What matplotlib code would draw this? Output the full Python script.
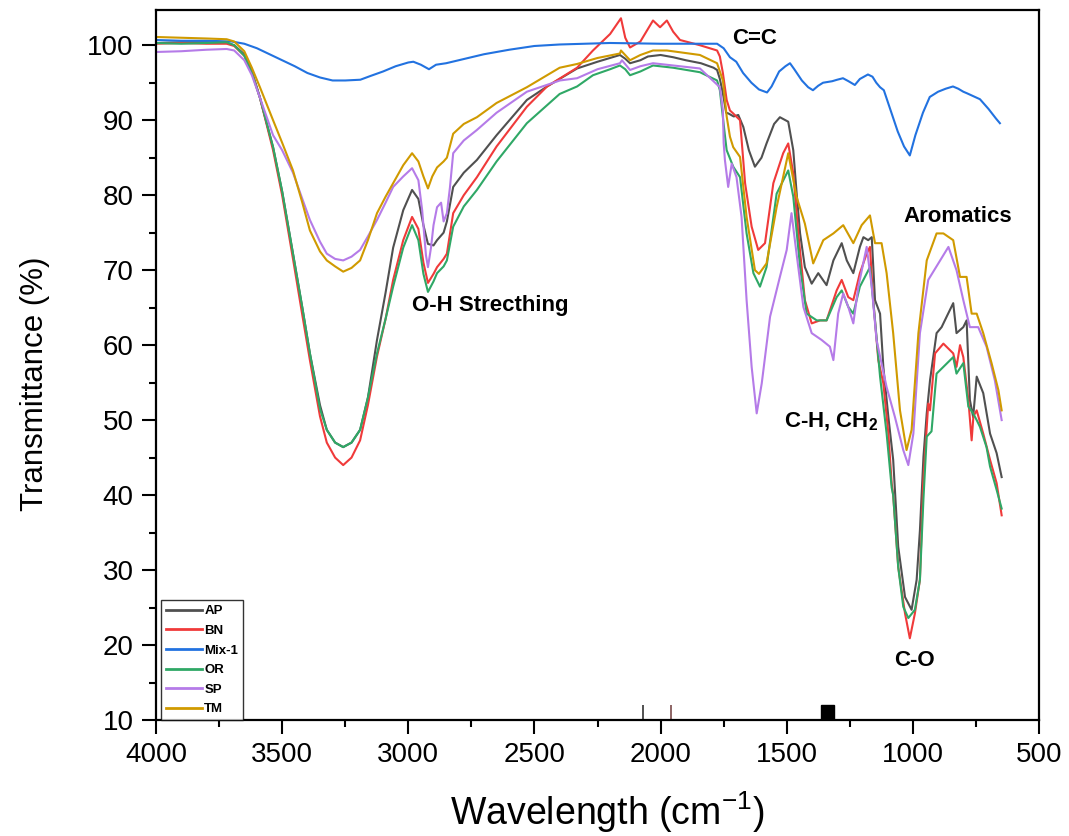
import matplotlib
matplotlib.use("Agg")
import matplotlib.pyplot as plt
from matplotlib.ticker import MultipleLocator
from matplotlib.patches import Rectangle

plt.rcParams['font.family'] = ['Liberation Sans', 'DejaVu Sans']
plt.rcParams['mathtext.default'] = 'regular'

# ---------------- data ----------------
ap_wn = [4000, 3900, 3800, 3720, 3690, 3650, 3620, 3588, 3536, 3500, 3457, 3420, 3390, 3350, 3323, 3290, 3258, 3225,
         3191, 3160, 3124, 3090, 3060, 3020, 2985, 2960, 2940, 2922, 2900, 2886, 2860, 2847, 2822, 2780, 2728, 2650,
         2530, 2450, 2331, 2250, 2161, 2140, 2121, 2080, 2050, 2000, 1950, 1900, 1840, 1790, 1776, 1765, 1753, 1740,
         1731, 1710, 1692, 1672, 1650, 1626, 1600, 1580, 1550, 1527, 1494, 1474, 1460, 1447, 1428, 1401, 1375, 1342,
         1315, 1282, 1262, 1236, 1210, 1196, 1177, 1163, 1150, 1130, 1117, 1097, 1078, 1058, 1031, 1005, 985, 972,
         958, 945, 932, 906, 886, 866, 840, 827, 800, 787, 774, 761, 747, 721, 694, 668, 648]
ap_t = [100.3, 100.4, 100.4, 100.3, 100.0, 98.8, 96.5, 93.0, 86.4, 80.5, 72.2, 65.0, 58.9, 52.0, 48.7, 47.0, 46.4, 47.0,
        48.7, 53.0, 60.7, 67.0, 73.0, 78.0, 80.7, 79.5, 76.0, 73.5, 73.3, 74.0, 75.0, 76.5, 81.1, 83.0, 84.7, 88.0,
        92.7, 94.5, 96.9, 97.8, 98.7, 98.2, 97.6, 98.0, 98.5, 98.7, 98.4, 98.0, 97.6, 97.0, 96.7, 95.5, 93.6, 91.0,
        90.9, 90.5, 90.7, 89.1, 86.0, 83.8, 85.0, 86.9, 89.5, 90.4, 89.8, 86.0, 80.0, 74.9, 70.4, 68.2, 69.6, 68.0,
        71.3, 73.6, 71.3, 69.6, 73.1, 74.4, 74.0, 74.4, 66.0, 64.2, 57.1, 50.4, 44.7, 33.1, 26.4, 24.7, 28.7, 35.3,
        45.1, 50.9, 55.3, 61.6, 62.4, 63.8, 65.6, 61.6, 62.4, 63.3, 52.7, 50.4, 55.8, 53.6, 48.2, 45.6, 42.4]

bn_wn = [4000, 3900, 3800, 3720, 3690, 3650, 3620, 3588, 3536, 3500, 3457, 3420, 3390, 3350, 3323, 3290, 3258, 3225,
         3191, 3160, 3124, 3090, 3060, 3020, 2985, 2960, 2940, 2922, 2900, 2886, 2860, 2847, 2822, 2780, 2728, 2650,
         2530, 2450, 2331, 2268, 2200, 2157, 2140, 2121, 2080, 2030, 2002, 1975, 1950, 1923, 1844, 1776, 1765, 1753,
         1738, 1725, 1712, 1685, 1665, 1639, 1613, 1586, 1553, 1514, 1494, 1474, 1454, 1428, 1401, 1368, 1342, 1302,
         1282, 1256, 1236, 1210, 1183, 1170, 1157, 1137, 1117, 1097, 1084, 1078, 1058, 1031, 1012, 992, 972, 959, 939,
         932, 912, 879, 840, 827, 813, 800, 780, 767, 760, 747, 721, 694, 668, 648]
bn_t = [100.2, 100.3, 100.2, 100.2, 99.9, 98.6, 96.4, 93.0, 86.0, 80.0, 71.5, 64.0, 58.0, 50.5, 47.0, 45.0, 44.0, 45.0,
        47.3, 52.0, 58.5, 63.5, 68.7, 74.0, 77.1, 75.5, 71.0, 68.3, 69.5, 70.4, 71.5, 72.2, 77.6, 80.0, 82.4, 86.5,
        91.8, 94.5, 97.0, 99.3, 101.5, 103.6, 101.0, 99.7, 100.5, 103.3, 102.4, 103.3, 101.8, 100.7, 100.0, 99.3, 98.5, 96.3,
        92.7, 91.3, 90.9, 90.0, 81.6, 75.8, 72.7, 73.6, 81.6, 85.6, 86.9, 82.9, 74.9, 66.0, 62.9, 63.3, 63.3, 67.3,
        68.7, 66.4, 66.0, 69.6, 72.2, 73.1, 66.0, 58.0, 54.9, 48.2, 41.6, 40.0, 30.4, 24.2, 20.9, 24.2, 28.7, 41.6, 52.2,
        51.3, 58.9, 60.2, 58.9, 57.1, 60.0, 58.4, 52.7, 47.3, 50.5, 51.3, 48.2, 44.7, 41.6, 37.3]

mix_wn = [4000, 3900, 3800, 3700, 3650, 3600, 3550, 3500, 3450, 3400, 3350, 3300, 3250, 3190, 3150, 3100, 3050, 3000,
          2980, 2950, 2918, 2890, 2850, 2800, 2700, 2600, 2500, 2400, 2200, 2000, 1850, 1776, 1750, 1725, 1700, 1673,
          1640, 1610, 1578, 1560, 1530, 1505, 1487, 1470, 1440, 1415, 1396, 1375, 1356, 1320, 1300, 1277, 1255, 1230,
          1210, 1178, 1160, 1145, 1130, 1115, 1090, 1060, 1035, 1012, 990, 960, 933, 900, 870, 841, 820, 800, 786,
          760, 734, 700, 670, 655]
mix_t = [100.7, 100.6, 100.6, 100.5, 100.2, 99.6, 98.8, 98.0, 97.2, 96.3, 95.7, 95.3, 95.3, 95.4, 95.9, 96.5, 97.2, 97.7,
         97.8, 97.4, 96.8, 97.4, 97.6, 98.0, 98.8, 99.4, 99.9, 100.1, 100.3, 100.2, 100.2, 100.2, 99.6, 98.4, 97.8, 96.3,
         95.0, 94.1, 93.7, 94.5, 96.5, 97.2, 97.6, 96.8, 95.3, 94.4, 94.0, 94.6, 95.0, 95.2, 95.4, 95.6, 95.2, 94.7,
         95.5, 96.1, 95.8, 95.0, 94.4, 94.0, 91.5, 88.5, 86.5, 85.3, 88.0, 91.0, 93.1, 93.8, 94.2, 94.5, 94.2, 93.8, 93.6,
         93.2, 92.8, 91.5, 90.2, 89.6]

or_wn = [4000, 3900, 3800, 3720, 3690, 3650, 3620, 3588, 3536, 3500, 3457, 3420, 3390, 3350, 3323, 3290, 3258, 3225,
         3191, 3160, 3124, 3090, 3060, 3020, 2985, 2960, 2940, 2922, 2900, 2886, 2860, 2847, 2822, 2780, 2728, 2650,
         2530, 2400, 2331, 2268, 2200, 2161, 2140, 2121, 2080, 2030, 1950, 1844, 1776, 1765, 1753, 1745, 1738, 1712,
         1685, 1659, 1632, 1606, 1580, 1540, 1494, 1474, 1447, 1421, 1381, 1342, 1302, 1282, 1256, 1236, 1210, 1170,
         1150, 1130, 1104, 1084, 1078, 1058, 1038, 1018, 992, 972, 958, 945, 926, 912, 906, 879, 840, 827, 800, 780,
         761, 747, 734, 708, 694, 668, 648]
or_t = [100.3, 100.2, 100.3, 100.4, 100.0, 98.6, 96.3, 93.0, 86.4, 80.5, 72.2, 65.0, 58.9, 51.5, 48.7, 47.0, 46.4, 47.0,
        48.7, 53.0, 58.9, 63.5, 67.8, 73.0, 76.0, 74.0, 69.5, 67.1, 68.5, 69.6, 70.5, 71.3, 75.8, 78.5, 80.7, 84.5,
        89.6, 93.5, 94.5, 96.0, 96.8, 97.3, 96.8, 96.0, 96.5, 97.3, 97.0, 96.4, 95.3, 94.0, 90.4, 88.0, 86.0, 83.8,
        82.4, 74.9, 69.6, 67.8, 70.4, 80.2, 83.3, 79.8, 70.4, 64.2, 63.3, 63.3, 66.4, 67.3, 65.1, 64.2, 67.8, 70.4,
        63.3, 55.8, 48.2, 41.0, 40.0, 30.4, 25.1, 23.6, 24.7, 28.7, 39.5, 47.8, 48.5, 54.0, 56.2, 57.1, 58.4, 56.2, 57.6, 51.8,
        50.9, 50.0, 49.1, 46.4, 43.8, 40.7, 38.2]

sp_wn = [4000, 3900, 3800, 3720, 3690, 3650, 3620, 3588, 3536, 3500, 3457, 3420, 3390, 3350, 3323, 3290, 3258, 3225,
         3191, 3160, 3124, 3090, 3060, 3020, 2985, 2960, 2945, 2930, 2922, 2910, 2900, 2886, 2870, 2860, 2847, 2835,
         2822, 2780, 2728, 2650, 2530, 2399, 2331, 2250, 2161, 2153, 2121, 2080, 2030, 1950, 1844, 1765, 1753, 1750,
         1745, 1732, 1718, 1699, 1679, 1659, 1639, 1619, 1599, 1566, 1527, 1500, 1481, 1461, 1434, 1401, 1362, 1329,
         1315, 1296, 1276, 1256, 1236, 1216, 1183, 1163, 1144, 1104, 1071, 1038, 1018, 998, 972, 939, 899, 859, 827,
         800, 774, 741, 708, 675, 648]
sp_t = [99.1, 99.2, 99.4, 99.5, 99.3, 98.0, 96.0, 93.0, 88.0, 86.0, 83.0, 79.5, 76.7, 73.8, 72.2, 71.5, 71.3, 71.8,
        72.7, 74.5, 76.7, 79.0, 81.1, 82.5, 83.6, 82.0, 78.0, 72.0, 70.4, 73.0, 76.0, 78.4, 79.0, 76.5, 77.6, 81.0,
        85.6, 87.3, 88.7, 91.0, 93.8, 95.3, 95.6, 96.8, 97.6, 98.0, 96.7, 97.2, 97.6, 97.3, 96.9, 94.4, 91.3, 87.0,
        84.7, 81.1, 84.2, 82.4, 77.1, 66.0, 57.1, 50.9, 54.9, 63.8, 69.1, 72.7, 77.6, 72.2, 65.1, 61.6, 60.7, 59.8,
        58.0, 64.2, 66.9, 65.1, 62.9, 67.8, 73.1, 67.8, 60.7, 54.4, 50.4, 46.0, 44.0, 48.2, 61.6, 68.7, 70.9, 73.1, 70.0,
        66.0, 62.4, 62.4, 59.8, 55.3, 50.0]

tm_wn = [4000, 3900, 3800, 3720, 3690, 3650, 3620, 3588, 3536, 3500, 3457, 3420, 3390, 3350, 3323, 3290, 3258, 3225,
         3191, 3160, 3124, 3090, 3060, 3020, 2985, 2960, 2940, 2922, 2905, 2886, 2860, 2847, 2822, 2780, 2728, 2650,
         2530, 2400, 2331, 2250, 2161, 2157, 2121, 2080, 2030, 1975, 1844, 1776, 1753, 1738, 1725, 1712, 1685, 1659,
         1626, 1610, 1580, 1540, 1494, 1461, 1428, 1395, 1355, 1315, 1276, 1236, 1203, 1170, 1150, 1124, 1104, 1078,
         1051, 1025, 1005, 978, 945, 906, 879, 840, 813, 787, 767, 747, 721, 688, 661, 648]
tm_t = [101.1, 101.0, 100.9, 100.8, 100.5, 99.2, 97.0, 94.4, 90.0, 87.0, 83.3, 79.0, 75.3, 72.5, 71.3, 70.5, 69.8, 70.3,
        71.3, 74.0, 77.6, 79.8, 81.6, 84.0, 85.6, 84.5, 82.5, 80.9, 82.5, 83.7, 84.5, 85.0, 88.2, 89.5, 90.4, 92.3,
        94.4, 97.0, 97.5, 98.3, 98.9, 99.3, 98.0, 98.7, 99.3, 99.3, 98.7, 97.6, 95.3, 90.5, 87.8, 86.4, 85.1, 77.1,
        70.0, 69.5, 70.9, 78.4, 85.6, 79.8, 76.2, 70.9, 74.0, 74.9, 76.0, 73.6, 76.0, 77.3, 73.6, 73.6, 69.6, 61.6,
        51.3, 46.0, 48.7, 61.6, 71.3, 74.9, 74.9, 74.0, 69.1, 69.1, 64.2, 64.2, 61.6, 57.6, 54.0, 51.3]

series_names = ['AP', 'BN', 'Mix-1', 'OR', 'SP', 'TM']
series_colors = ['#505050', '#f03a3a', '#2272e0', '#2fa866', '#b57be8', '#d09a00']

annot_texts = ['O-H Strecthing', 'C=C', 'Aromatics', 'C-H, CH$_2$', 'C-O']
annot_wn = [2676, 1626, 821, 1325, 992]
annot_t = [65.3, 100.9, 77.1, 49.8, 18.0]

# stray marks near the x axis in the original
stray_line_wn = [2069, 1960]
stray_line_colors = ['#333333', '#7a4a4a']
stray_box_wn = [1364, 1313]
stray_height = 2.0

# ---------------- plot ----------------
fig = plt.figure(figsize=(10.69, 8.36), dpi=100)
ax = fig.add_axes([156/1069, 1-720/836, 883/1069, 710/836])

data = [(ap_wn, ap_t), (bn_wn, bn_t), (mix_wn, mix_t), (or_wn, or_t), (sp_wn, sp_t), (tm_wn, tm_t)]
for (wn, t), name, col in zip(data, series_names, series_colors):
    ax.plot(wn, t, color=col, lw=1.5, label=name, solid_joinstyle='round')

ax.set_xlim(4000, 500)
ax.set_ylim(10, 104.7)

for w, c in zip(stray_line_wn, stray_line_colors):
    ax.vlines(w, 10, 10 + stray_height, color=c, lw=1.2)
ax.add_patch(Rectangle((stray_box_wn[1], 10), stray_box_wn[0] - stray_box_wn[1], stray_height,
                       facecolor='black', edgecolor='black'))

ax.xaxis.set_major_locator(MultipleLocator(500))
ax.xaxis.set_minor_locator(MultipleLocator(250))
ax.yaxis.set_major_locator(MultipleLocator(10))
ax.yaxis.set_minor_locator(MultipleLocator(5))
ax.tick_params(which='major', direction='out', length=10, width=1.5, labelsize=20, pad=6,
               top=False, right=False)
ax.tick_params(which='minor', direction='out', length=5, width=1.5, top=False, right=False)
for sp in ax.spines.values():
    sp.set_linewidth(1.6)

ax.set_xlabel('Wavelength (cm$^{-1}$)', fontsize=27)
ax.set_ylabel('Transmittance (%)', fontsize=22.5)
ax.xaxis.set_label_coords(0.511, -0.098)
ax.yaxis.set_label_coords(-0.12, 0.473)

for txt, w, t in zip(annot_texts, annot_wn, annot_t):
    ax.text(w, t, txt, fontsize=16, fontweight='bold', ha='center', va='center')

leg = ax.legend(loc='lower left', bbox_to_anchor=(0.006, 0.0), borderaxespad=0,
                prop={'size': 9.5, 'weight': 'bold'}, handlelength=2.7, handletextpad=0.2,
                labelspacing=0.56, frameon=True, fancybox=False, borderpad=0.35)
leg.get_frame().set_edgecolor('black')
leg.get_frame().set_linewidth(1.0)
for line in leg.get_lines():
    line.set_linewidth(2.0)

fig.savefig('out.png', dpi=100)
